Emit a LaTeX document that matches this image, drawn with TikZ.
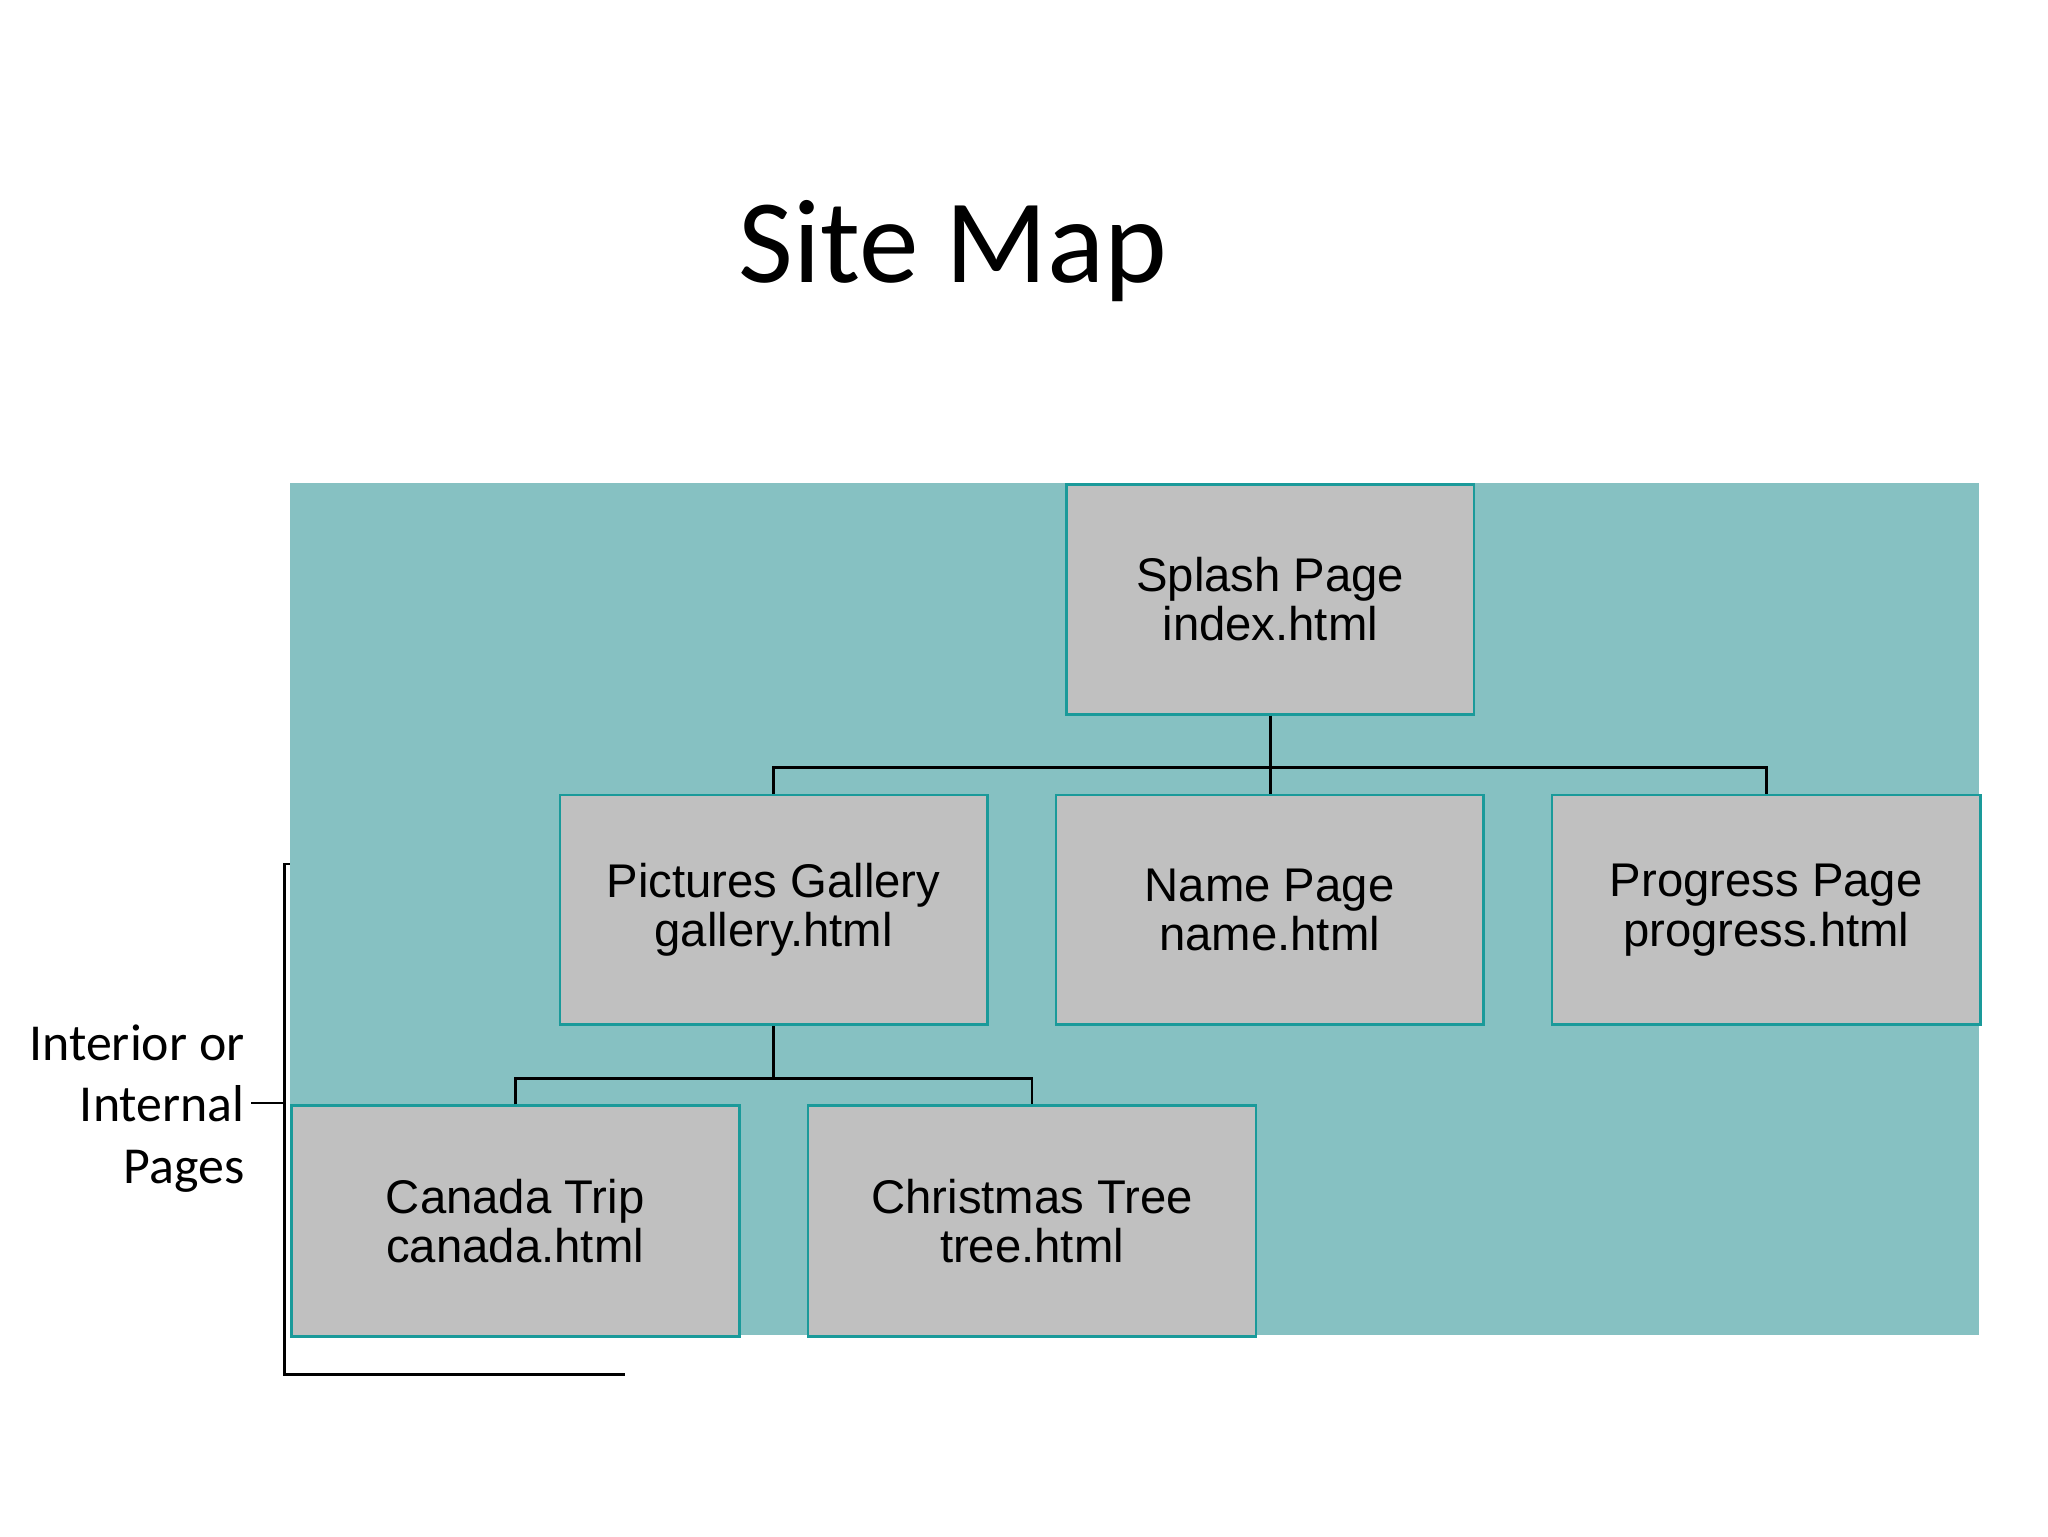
\documentclass[tikz,border=0pt]{standalone}
\usepackage{fontspec}
\setmainfont{Liberation Sans}
\newfontfamily\calib{Carlito}
\definecolor{bgteal}{HTML}{86C1C2}
\definecolor{edgeteal}{HTML}{1A9A9A}
\definecolor{boxgray}{HTML}{C0C0C0}
\begin{document}
\begin{tikzpicture}[x=0.01cm,y=-0.01cm,
  page/.style={draw=edgeteal,fill=boxgray,line width=0.6pt,anchor=north west,align=center,inner sep=0pt,
     font=\fontsize{10.3}{10.8}\selectfont},
  conn/.style={draw=black,line width=0.6pt}]
\useasboundingbox (0,0) rectangle (1569,1177);
\fill[bgteal] (222,370) rectangle (1516,1023);
\node[font=\calib\fontsize{26}{30}\selectfont] (title) at (730,192) {Site Map};
\node[page,minimum width=3.12cm,minimum height=1.76cm] (splash) at (816,370) {Splash Page\\index.html};
\node[page,minimum width=3.27cm,minimum height=1.76cm] (gal) at (428,608) {Pictures Gallery\\gallery.html};
\node[page,minimum width=3.27cm,minimum height=1.76cm] (name) at (808,608) {Name Page\\name.html};
\node[page,minimum width=3.28cm,minimum height=1.76cm] (prog) at (1188,608) {Progress Page\\progress.html};
\node[page,minimum width=3.43cm,minimum height=1.77cm] (can) at (222,846) {Canada Trip\\canada.html};
\node[page,minimum width=3.43cm,minimum height=1.77cm] (tree) at (618,846) {Christmas Tree\\tree.html};
\coordinate (j1) at (splash.south |- 0,588);
\coordinate (j2) at (gal.south |- 0,826);
\draw[conn] (splash.south) -- (j1);
\draw[conn] (gal.north) |- (j1) -| (prog.north);
\draw[conn] (j1) -- (j1 |- name.north);
\draw[conn] (gal.south) -- (j2);
\draw[conn] (can.north) |- (j2) -| (tree.north);
\coordinate (bt) at (222,662);
\coordinate (bb) at (479,1053);
\coordinate (bm) at (218,845);
\coordinate (bl) at (192,845);
\draw[line width=0.6pt] (bt) -- (218,662) -- (218,1053) -- (bb);
\draw[line width=0.6pt] (bm) -- (bl);
\node[anchor=east,align=right,inner sep=0pt,font=\calib\fontsize{11.3}{13.4}\selectfont] (lab) at (188,849) {Interior or\\Internal\\Pages};
\end{tikzpicture}
\end{document}
